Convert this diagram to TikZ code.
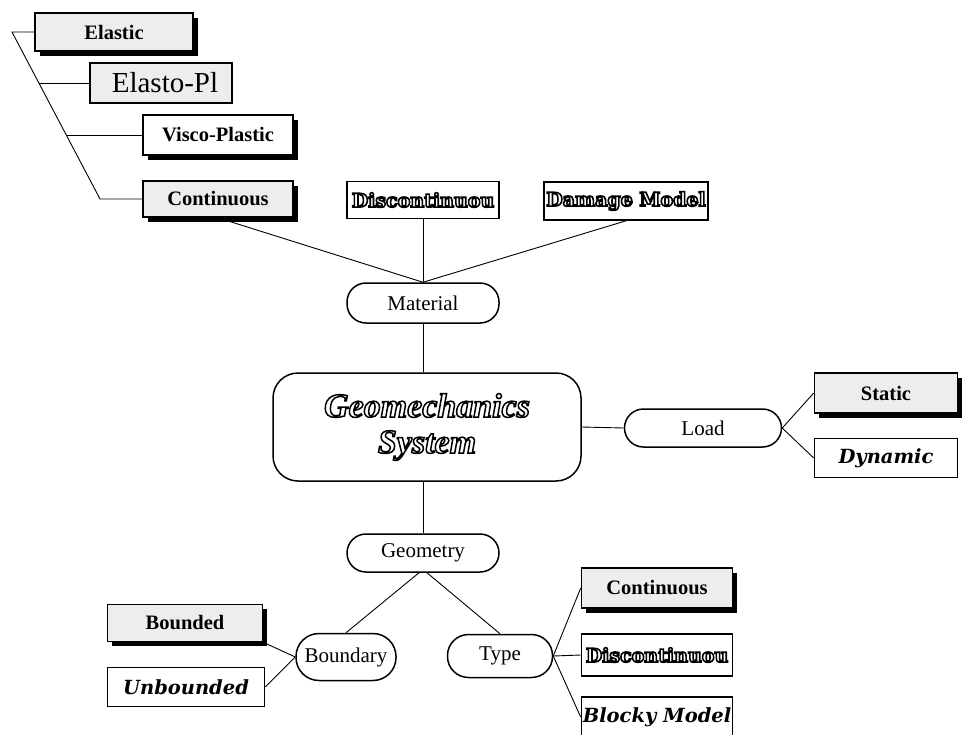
\documentclass[tikz,border=0pt]{standalone}
\usepackage{fontspec}
\setmainfont{Liberation Serif}
\newfontfamily\heavyserif{DejaVu Serif}
\usetikzlibrary{shadows,calc}

% outlined (hollow) lettering: glyphs stroked, not filled
\newcommand\hollow[2][1]{%
  \special{pdf:literal direct #1 w 1 Tr}#2\special{pdf:literal direct 0 Tr}}

\begin{document}
\begin{tikzpicture}[x=1pt,y=-1pt,
  conn/.style={line width=0.9pt},
  leaf/.style={draw, line width=1.6pt, minimum height=38pt, inner sep=0pt, fill=white},
  stipple/.style={fill=black!7},
  shade/.style={drop shadow={shadow xshift=4.5pt, shadow yshift=-4.5pt, fill=black, opacity=1}},
  hub/.style={draw, line width=1.5pt, rounded corners=19pt, minimum height=40pt,
    inner sep=0pt, fill=white, font=\fontsize{21}{24}\selectfont},
  boldlbl/.style={font=\fontsize{20.5}{24}\selectfont\bfseries},
  fancyup/.style={font=\fontsize{19}{23}\selectfont\heavyserif\bfseries},
  fancyit/.style={font=\fontsize{19.5}{23}\selectfont\heavyserif\bfseries\itshape},
]
\useasboundingbox (0,0) rectangle (966,734);

% ---- material branch ----
\node[leaf, stipple, shade, boldlbl, minimum width=158pt] (elastic) at (114,32) {Elastic};
\node[leaf, stipple, minimum width=142pt, minimum height=40pt,
      font=\fontsize{29}{32}\selectfont] (elasto) at (161,83) {\hspace{8pt}Elasto-Pl};
\node[leaf, shade, boldlbl, minimum width=150pt, minimum height=40pt] (visco) at (218,135) {Visco-Plastic};
\node[leaf, stipple, shade, boldlbl, minimum width=150pt, minimum height=36pt] (conttop) at (218,199) {Continuous};
\node[leaf, fancyup, minimum width=152pt, minimum height=37pt] (disctop) at (423,200) {\hollow[1.6]{Discontinuou}};
\node[leaf, fancyup, minimum width=164pt] (damage) at (626,201) {\hollow[1.6]{Damage Model}};

\node[hub, minimum width=152pt] (material) at (423,303) {Material};

% ---- centre ----
\node[hub, rounded corners=25pt, minimum width=308pt, minimum height=108pt, align=center,
      font=\fontsize{34}{36}\selectfont\bfseries\itshape] (geo) at (427,427)
      {\hollow[1.5]{Geomechanics}\\\hollow[1.5]{System}};

% ---- load branch ----
\node[hub, minimum width=157pt, minimum height=38pt] (load) at (703,428) {Load};
\node[leaf, stipple, shade, boldlbl, minimum width=143pt, minimum height=40pt] (static) at (886,393) {Static};
\node[leaf, fancyit, minimum width=143pt, minimum height=39pt] (dynamic) at (886,458) {Dynamic};

% ---- geometry branch ----
\node[hub, minimum width=152pt, minimum height=38pt] (geometry) at (423,553) {Geometry};
\node[hub, rounded corners=23pt, minimum width=100pt, minimum height=47pt] (boundary) at (346,657) {Boundary};
\node[hub, rounded corners=21pt, minimum width=105pt, minimum height=43pt] (type) at (500,656) {Type};

\node[leaf, stipple, shade, boldlbl, minimum width=155pt, minimum height=37pt] (bounded) at (185,623) {Bounded};
\node[leaf, fancyit, minimum width=157pt, minimum height=39pt] (unbounded) at (186,687) {Unbounded};

\node[leaf, stipple, shade, boldlbl, minimum width=151pt, minimum height=40pt] (contbot) at (657,588) {Continuous};
\node[leaf, fancyup, minimum width=151pt, minimum height=42pt] (discbot) at (657,655) {\hollow[1.6]{Discontinuou}};
\node[leaf, fancyit, minimum width=151pt, minimum height=40pt] (blocky) at (657,717) {Blocky Model};

% ---- connectors ----
\coordinate (t0) at (12,32);
\coordinate (t4) at (100,199);
\coordinate (b1) at (39,83);
\coordinate (b2) at (66,135);
\draw[conn] (elastic.west) -- (t0) -- (t4) -- (conttop.west);
\draw[conn] (b1) -- (elasto.west);
\draw[conn] (b2) -- (visco.west);

\draw[conn] (conttop.south) -- (material.north);
\draw[conn] (disctop.south) -- (material.north);
\draw[conn] (damage.south) -- (material.north);
\draw[conn] (material.south) -- (material.south |- geo.north);

\draw[conn] (geo.east) -- (load.west);
\draw[conn] (load.east) -- (static.west);
\draw[conn] (load.east) -- (dynamic.west);

\draw[conn] (geometry.north |- geo.south) -- (geometry.north);
\draw[conn] ([xshift=-4pt]geometry.south) -- (boundary.north);
\draw[conn] ([xshift=4pt]geometry.south) -- (type.north);

\draw[conn] (bounded.south east) -- (boundary.west);
\draw[conn] (unbounded.east) -- (boundary.west);

\draw[conn] (type.east) -- (contbot.west);
\draw[conn] (type.east) -- (discbot.west);
\draw[conn] (type.east) -- (blocky.west);
\end{tikzpicture}
\end{document}
